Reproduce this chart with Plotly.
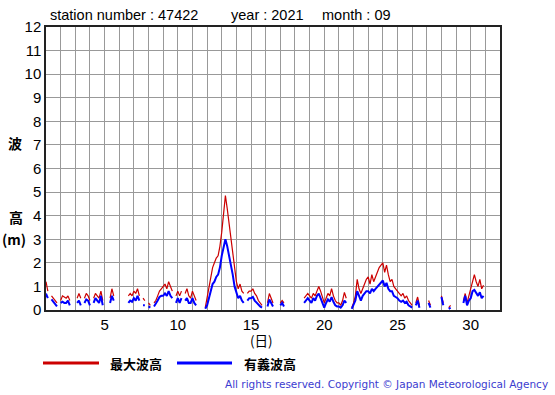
import plotly.graph_objects as go

# 3-hourly samples, 8 per day, September 2021 (None = missing)
days = list(range(1, 31))
steps_per_day = 8

max_wave = [
    [1.2, 0.8, None, 0.6, 0.5, 0.4, 0.3, None],      # 1
    [0.4, 0.6, 0.55, 0.5, 0.6, 0.4, None, None],     # 2
    [None, 0.5, 0.7, 0.5, None, 0.5, 0.7, 0.6],      # 3
    [0.4, None, 0.5, 0.7, 0.6, 0.5, 0.8, 0.4],       # 4
    [None, None, None, 0.5, 0.9, 0.6, None, 0.4],    # 5
    [None, None, None, None, None, 0.6, 0.7, 0.6],   # 6
    [0.8, 0.7, 0.9, 0.6, None, 0.5, 0.4, None],      # 7
    [0.3, 0.2, None, 0.3, 0.4, 0.6, 0.8, 0.9],       # 8
    [1.0, 1.1, 0.9, 1.2, 1.0, 0.8, None, 0.6],       # 9
    [0.8, 0.6, 0.8, None, 0.7, 0.9, 0.6, 0.5],       # 10
    [0.8, 0.6, 0.4, None, None, 0.2, None, 0.1],     # 11
    [0.5, 0.9, 1.4, 1.8, 2.0, 2.2, 2.3, 2.7],        # 12
    [3.3, 4.2, 4.85, 4.3, 3.7, 3.2, 2.4, 1.8],       # 13
    [1.2, 0.9, 1.1, 0.8, 0.7, None, 0.7, 0.8],       # 14
    [0.8, 0.9, 0.7, 0.6, 0.4, 0.3, 0.2, None],       # 15
    [None, 0.3, 0.7, 0.5, 0.3, None, 0.2, None],     # 16
    [0.3, 0.4, 0.3, None, None, None, None, None],   # 17
    [None, 0.1, None, None, None, 0.5, 0.6, 0.7],    # 18
    [0.6, 0.5, 0.7, 0.6, 0.8, 1.0, 0.8, 0.5],        # 19
    [0.3, 0.5, 0.7, 0.6, 0.9, 0.6, 0.4, 0.3],        # 20
    [0.3, 0.2, 0.4, 0.75, 0.5, None, None, 0.1],     # 21
    [0.3, 0.6, 1.3, 0.9, 0.7, 0.9, 1.1, 1.3],        # 22
    [1.4, 1.1, 1.5, 1.2, 1.4, 1.6, 1.8, 1.9],        # 23
    [2.0, 1.6, 1.9, 1.5, 1.2, 1.3, 1.0, 0.9],        # 24
    [0.8, 0.7, 0.6, 0.7, 0.5, 0.6, 0.4, 0.3],        # 25
    [0.2, None, 0.3, 0.55, 0.2, None, None, None],   # 26
    [None, 0.4, 0.2, None, None, None, 0.2, None],   # 27
    [0.6, 0.3, None, None, 0.1, 0.2, None, None],    # 28
    [None, 0.1, None, None, 0.4, 0.7, 0.3, 0.6],     # 29
    [0.9, 1.3, 1.5, 1.2, 1.0, 1.3, 0.9, 1.05],       # 30
]

sig_wave = [
    [0.7, 0.5, None, 0.45, 0.35, 0.25, 0.15, None],  # 1
    [0.3, 0.35, 0.3, 0.3, 0.4, 0.2, None, None],     # 2
    [None, 0.3, 0.4, 0.2, None, 0.3, 0.45, 0.4],     # 3
    [0.2, None, 0.3, 0.5, 0.4, 0.3, 0.6, 0.2],       # 4
    [None, None, None, 0.3, 0.6, 0.4, None, 0.2],    # 5
    [None, None, None, None, None, 0.3, 0.4, 0.35],  # 6
    [0.5, 0.4, 0.6, 0.4, None, 0.2, 0.2, None],      # 7
    [0.15, 0.1, None, 0.15, 0.25, 0.4, 0.55, 0.6],   # 8
    [0.6, 0.7, 0.6, 0.8, 0.6, 0.5, None, 0.3],       # 9
    [0.5, 0.3, 0.5, None, 0.4, 0.5, 0.3, 0.3],       # 10
    [0.5, 0.3, 0.2, None, None, 0.1, None, 0.05],    # 11
    [0.2, 0.5, 0.8, 1.1, 1.2, 1.4, 1.5, 1.8],        # 12
    [2.3, 2.7, 3.0, 2.7, 2.3, 2.0, 1.5, 1.0],        # 13
    [0.7, 0.5, 0.6, 0.4, 0.3, None, 0.4, 0.5],       # 14
    [0.5, 0.55, 0.4, 0.3, 0.2, 0.15, 0.1, None],     # 15
    [None, 0.15, 0.45, 0.3, 0.15, None, 0.1, None],  # 16
    [0.2, 0.3, 0.15, None, None, None, None, None],  # 17
    [None, 0.05, None, None, None, 0.3, 0.4, 0.5],   # 18
    [0.4, 0.3, 0.5, 0.4, 0.6, 0.7, 0.5, 0.3],        # 19
    [0.1, 0.3, 0.45, 0.35, 0.55, 0.35, 0.2, 0.15],   # 20
    [0.15, 0.1, 0.2, 0.4, 0.3, None, None, 0.05],    # 21
    [0.2, 0.4, 0.8, 0.6, 0.4, 0.6, 0.7, 0.8],        # 22
    [0.8, 0.7, 0.9, 0.8, 0.9, 1.0, 1.1, 1.2],        # 23
    [1.25, 1.0, 1.15, 0.9, 0.8, 0.8, 0.6, 0.55],     # 24
    [0.5, 0.4, 0.35, 0.4, 0.3, 0.35, 0.2, 0.15],     # 25
    [0.1, None, 0.2, 0.4, 0.1, None, None, None],    # 26
    [None, 0.3, 0.1, None, None, None, 0.1, None],   # 27
    [0.55, 0.2, None, None, 0.05, 0.1, None, None],  # 28
    [None, 0.05, None, None, 0.3, 0.6, 0.2, 0.4],    # 29
    [0.5, 0.8, 0.85, 0.7, 0.6, 0.75, 0.5, 0.6],      # 30
]

x_ticks = [5, 10, 15, 20, 25, 30]
y_ticks = list(range(0, 13))
title_parts = ["station number : 47422", "year : 2021", "month : 09"]
legend_names = ["最大波高", "有義波高"]
colors = ["#cc0000", "#0000ff"]

t = [d + k / steps_per_day for d in days for k in range(steps_per_day)]
ymax = [v for row in max_wave for v in row]
ysig = [v for row in sig_wave for v in row]

fig = go.Figure()
fig.add_trace(go.Scatter(x=t, y=ymax, mode="lines", name=legend_names[0],
                         line=dict(color=colors[0], width=1.2), connectgaps=False,
                         showlegend=False))
fig.add_trace(go.Scatter(x=t, y=ysig, mode="lines", name=legend_names[1],
                         line=dict(color=colors[1], width=2), connectgaps=False,
                         showlegend=False))

W, H = 555, 395
L, R, T, B = 46, 500, 27, 310


def px(x):
    return (x - L) / (R - L)


def py(y):
    return (B - y) / (B - T)


all_days = list(range(1, 33))
fig.update_layout(
    width=W, height=H,
    margin=dict(l=L, r=W - R, t=T, b=H - B),
    paper_bgcolor="white", plot_bgcolor="white",
    font=dict(family="Liberation Sans, Arial, sans-serif", size=15, color="black"),
    xaxis=dict(range=[1, 32], tickmode="array", tickvals=all_days,
               ticktext=[str(d) if d in x_ticks else "" for d in all_days],
               showgrid=True, gridcolor="#999999", gridwidth=1,
               showline=True, linecolor="#222222", linewidth=1.5, mirror=True,
               ticks="", zeroline=False, tickfont=dict(size=15)),
    yaxis=dict(range=[0, 12], tickmode="array", tickvals=y_ticks,
               showgrid=True, gridcolor="#999999", gridwidth=1,
               showline=True, linecolor="#222222", linewidth=1.5, mirror=True,
               ticks="", zeroline=False, tickfont=dict(size=15)),
)

ann = []
# title parts
for text, x0 in zip(title_parts, [48, 229, 320]):
    ann.append(dict(text=text, x=px(x0), y=py(15), xref="paper", yref="paper",
                    xanchor="left", yanchor="middle", showarrow=False,
                    font=dict(size=14.5)))
# y title
for text, xx, yy in [("波", 15, 143), ("高", 16, 217), ("(m)", 14, 239)]:
    ann.append(dict(text=f"<b>{text}</b>", x=px(xx), y=py(yy), xref="paper", yref="paper",
                    xanchor="center", yanchor="middle", showarrow=False,
                    font=dict(size=14, family="Noto Sans CJK JP")))
# x title
ann.append(dict(text="(日)", x=px(261), y=py(340), xref="paper", yref="paper",
                xanchor="center", yanchor="middle", showarrow=False,
                font=dict(size=13.5, family="Noto Sans CJK JP")))
# legend
shapes = []
for name, col, x0, x1, xt in [(legend_names[0], colors[0], 43, 99, 108),
                              (legend_names[1], colors[1], 177, 232, 242)]:
    shapes.append(dict(type="line", xref="paper", yref="paper",
                       x0=px(x0), x1=px(x1), y0=py(363), y1=py(363),
                       line=dict(color=col, width=3)))
    ann.append(dict(text=f"<b>{name}</b>", x=px(xt), y=py(363), xref="paper", yref="paper",
                    xanchor="left", yanchor="middle", showarrow=False,
                    font=dict(size=13, family="Noto Sans CJK JP")))
# copyright
ann.append(dict(text="All rights reserved. Copyright © Japan Meteorological Agency",
                x=px(550), y=py(384), xref="paper", yref="paper",
                xanchor="right", yanchor="middle", showarrow=False,
                font=dict(size=10.5, family="DejaVu Sans", color="#3c3cd0")))

fig.update_layout(annotations=ann, shapes=shapes)
fig.write_html("out.html", config={"displayModeBar": False},
               post_script="document.body.style.margin='0';document.body.style.overflow='hidden';")
